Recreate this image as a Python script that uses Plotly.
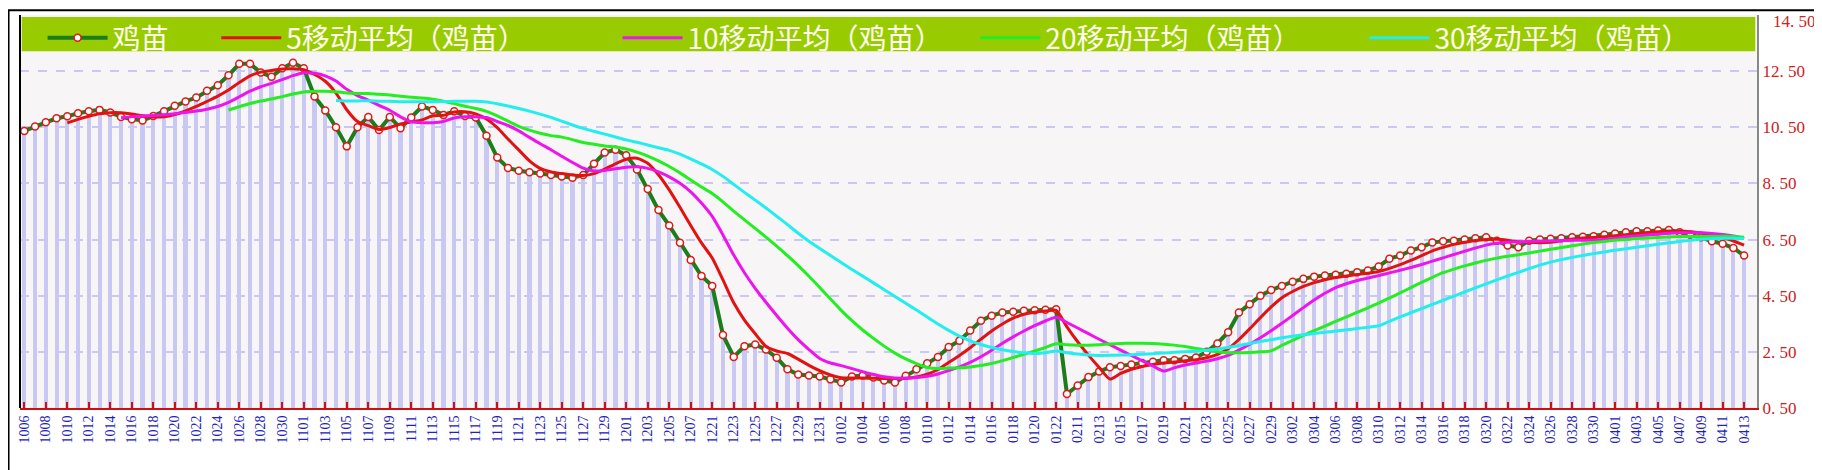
import plotly.graph_objects as go
import pandas as pd

def days(m, a, b):
    return [f"{m:02d}{d:02d}" for d in range(a, b + 1)]

dates = (days(10, 6, 31) + days(11, 1, 30) + days(12, 1, 7) + ["1220"] + days(12, 21, 31)
         + days(1, 1, 22) + ["0123"] + days(2, 11, 29) + days(3, 1, 31) + days(4, 1, 13))

price = [10.37, 10.53, 10.68, 10.82, 10.89, 11.0, 11.07, 11.12, 11.03, 10.87,
         10.79, 10.74, 10.9, 11.07, 11.27, 11.42, 11.56, 11.8, 12.0, 12.35,
         12.76, 12.76, 12.45, 12.3, 12.6, 12.8, 12.6, 11.6, 11.1, 10.5,
         9.82, 10.5, 10.87, 10.4, 10.87, 10.47, 10.85, 11.24, 11.12, 10.94,
         11.07, 10.9, 10.85, 10.2, 9.42, 9.05, 8.95, 8.9, 8.85, 8.8,
         8.75, 8.7, 8.8, 9.2, 9.6, 9.7, 9.5, 9.0, 8.3, 7.55,
         7.0, 6.39, 5.77, 5.2, 4.85, 3.1, 2.32, 2.7, 2.76, 2.58,
         2.29, 1.88, 1.69, 1.66, 1.62, 1.52, 1.41, 1.62, 1.66, 1.59,
         1.48, 1.41, 1.65, 1.88, 2.09, 2.32, 2.67, 2.9, 3.26, 3.61,
         3.79, 3.9, 3.93, 3.96, 3.98, 4.0, 4.02, 1.0, 1.3, 1.6,
         1.8, 1.95, 2.0, 2.05, 2.1, 2.15, 2.2, 2.2, 2.25, 2.3,
         2.5, 2.8, 3.2, 3.9, 4.2, 4.5, 4.7, 4.85, 5.0, 5.1,
         5.18, 5.22, 5.25, 5.28, 5.34, 5.4, 5.54, 5.82, 5.93, 6.11,
         6.23, 6.4, 6.44, 6.46, 6.5, 6.55, 6.58, 6.46, 6.29, 6.23,
         6.46, 6.5, 6.53, 6.55, 6.58, 6.6, 6.62, 6.67, 6.72, 6.76,
         6.8, 6.8, 6.82, 6.84, 6.76, 6.67, 6.58, 6.44, 6.35, 6.2, 5.93]

ma_windows = [5, 10, 20, 30]
ma_colors = ["#e31212", "#ee14ee", "#22ee22", "#22eeee"]
yticks = [0.5, 2.5, 4.5, 6.5, 8.5, 10.5, 12.5]
ytick_text = ["0. 50", "2. 50", "4. 50", "6. 50", "8. 50", "10. 50", "12. 50"]
ytop, ytop_text = 14.5, "14. 50"

x = list(range(len(dates)))
s = pd.Series(price)
fig = go.Figure()
fig.add_trace(go.Bar(x=x, y=price, base=0, width=0.38, marker=dict(color="#c8c8f2", line_width=0),
                     showlegend=False, hoverinfo="skip"))
fig.add_trace(go.Scatter(x=x, y=price, mode="lines+markers", name="鸡苗", legend="legend",
                         line=dict(color="#1b7d1b", width=4),
                         marker=dict(symbol="circle", size=7, color="white",
                                     line=dict(color="#e01818", width=1.5))))
legend_x = [0.013, 0.113, 0.344, 0.55, 0.774]
legs = ["legend2", "legend3", "legend4", "legend5"]
for w, c, lg in zip(ma_windows, ma_colors, legs):
    ma = s.rolling(w).mean()
    fig.add_trace(go.Scatter(x=x, y=ma, mode="lines", name=f"{w}移动平均（鸡苗）", legend=lg,
                             line=dict(color=c, width=3, shape="spline", smoothing=0.6)))

lfont = dict(family="Noto Sans CJK SC", size=28, color="#fffff0")
layout_legends = {}
for i, name in enumerate(["legend"] + legs):
    layout_legends[name] = dict(x=legend_x[i], y=1.005, xref="paper", yref="paper",
                                xanchor="left", yanchor="top", orientation="h",
                                bgcolor="rgba(0,0,0,0)", font=lfont, itemwidth=60)

yfont = dict(family="Liberation Serif", size=17, color="#cc2222")
fig.update_layout(
    width=1822, height=470,
    margin=dict(l=12, r=73, t=7, b=70, autoexpand=False),
    paper_bgcolor="white", plot_bgcolor="#f7f5f5",
    bargap=0, **layout_legends,
    shapes=[dict(type="rect", xref="paper", yref="paper", x0=0.001, x1=0.999, y0=0.908, y1=0.995,
                 fillcolor="#99cc00", line_width=0, layer="below"),
            dict(type="rect", xref="paper", yref="paper", x0=-0.0066, x1=1.0425, y0=-0.2, y1=1.012,
                 line=dict(color="black", width=2), fillcolor="rgba(0,0,0,0)")],
    annotations=[dict(x=1, xref="paper", xanchor="left", xshift=14, y=ytop, yref="y",
                      yanchor="top", yshift=5, text=ytop_text, showarrow=False, font=yfont)],
    xaxis=dict(range=[-0.4, 161.2], tickmode="array", tickvals=x[::2], ticktext=dates[::2],
               tickangle=-90, tickfont=dict(family="Liberation Serif", size=14, color="#2020c0"),
               showgrid=False, ticks="inside", ticklen=6, tickcolor="#cc1111", tickwidth=2,
               showline=True, linecolor="#cc1111", linewidth=2, zeroline=False, automargin=False),
    yaxis=dict(range=[0.5, 14.5], side="right", tickmode="array", tickvals=yticks, ticktext=ytick_text,
               tickfont=yfont,
               showgrid=True, gridcolor="#c8c8f2", griddash="dash", gridwidth=1.5,
               showline=True, linecolor="#888888", linewidth=2, zeroline=False, ticks="",
               automargin=False),
)
fig.add_shape(type="line", xref="paper", yref="paper", x0=0, x1=0, y0=0, y1=1,
              line=dict(color="black", width=2))
fig.write_html("out.html")
